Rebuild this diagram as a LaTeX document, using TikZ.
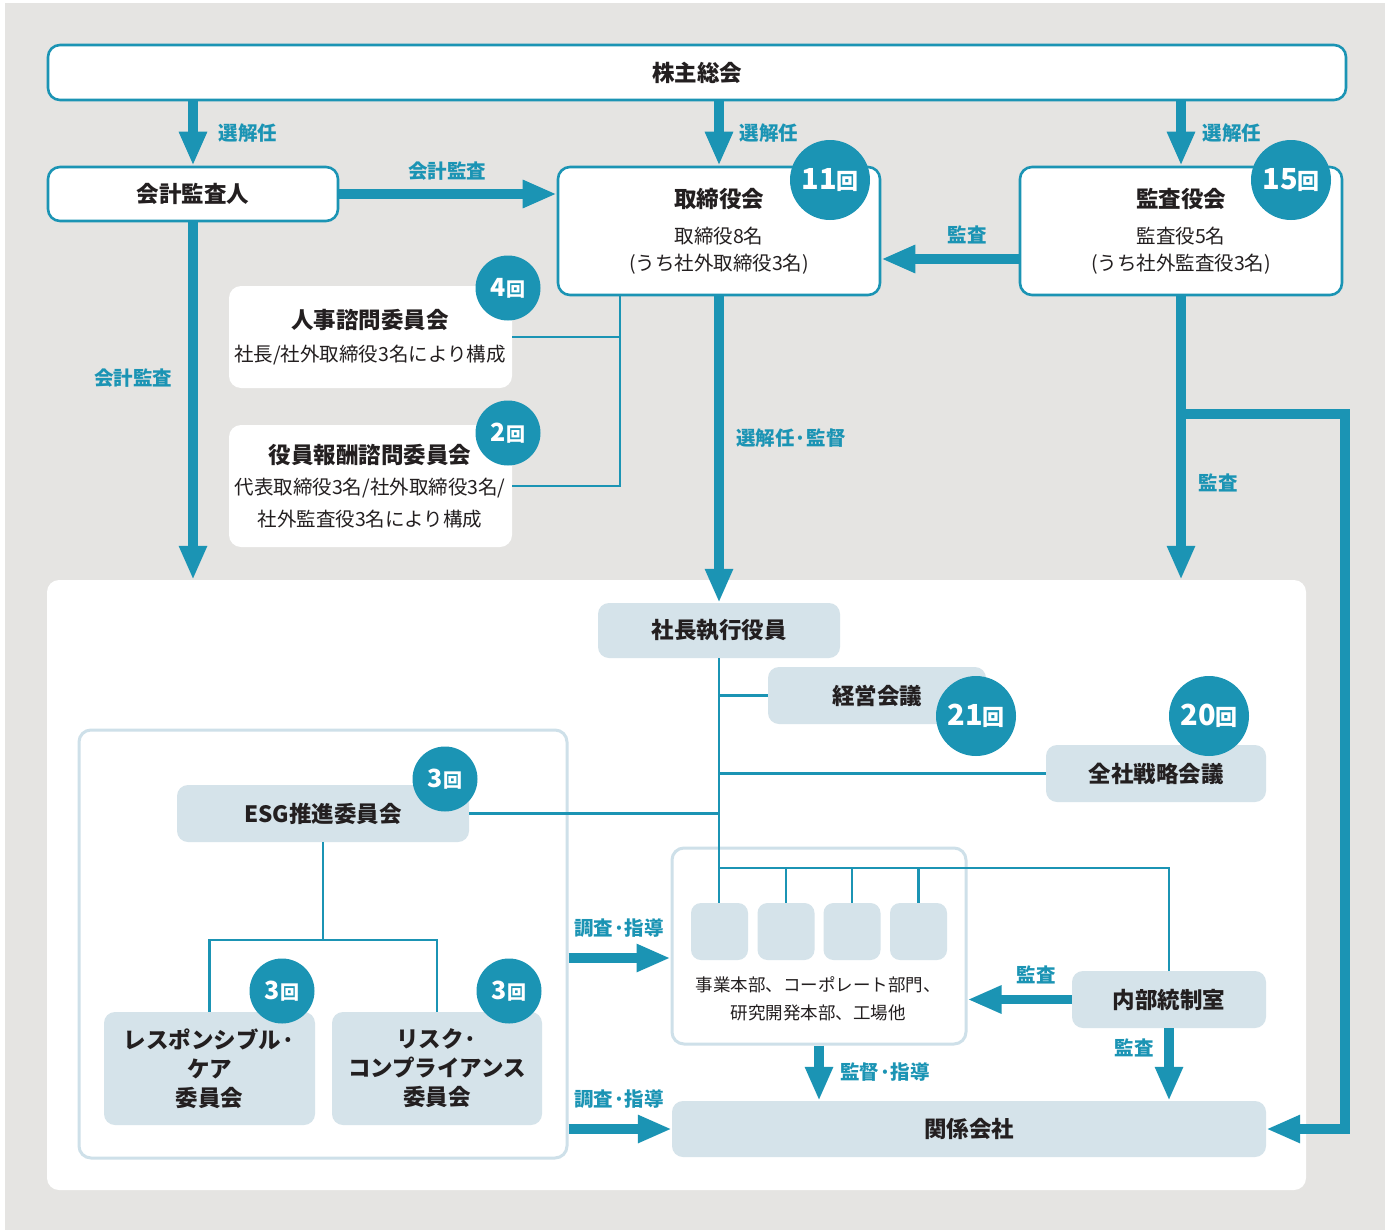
\documentclass[tikz,border=0pt]{standalone}
\usepackage{fontspec}
\setmainfont{Noto Sans CJK JP}
\usetikzlibrary{arrows.meta,calc}
\definecolor{teal1}{RGB}{27,148,180}
\definecolor{bggray}{RGB}{229,228,226}
\definecolor{lblue}{RGB}{213,227,234}
\definecolor{gborder}{RGB}{206,224,233}
\definecolor{ink}{RGB}{35,31,32}
\newcommand\kaisu[3]{{\fontsize{#1}{#1}\selectfont\bfseries #3}{\fontsize{#2}{#2}\selectfont\bfseries 回}}
\tikzset{
 wbox/.style={draw=teal1, line width=2.6pt, fill=white, rounded corners=12pt, inner sep=0pt},
 pbox/.style={fill=lblue, rounded corners=11pt, inner sep=0pt, text=ink},
 gbox/.style={draw=gborder, line width=3pt, fill=white, rounded corners=12pt, inner sep=0pt},
 wpanel/.style={fill=white, rounded corners=12pt, inner sep=0pt},
 ttl/.style={font=\fontsize{22.5}{29}\selectfont\bfseries, text=ink},
 sub/.style={font=\fontsize{19.5}{22}\selectfont, text=ink, inner sep=0pt},
 dsub/.style={font=\fontsize{17.5}{20}\selectfont, text=ink, inner sep=0pt},
 lbl/.style={font=\fontsize{19.5}{22}\selectfont\bfseries, text=teal1, inner sep=0pt},
 badge/.style={circle, fill=teal1, text=white, inner sep=0pt},
 bigbadge/.style={badge, minimum size=80pt},
 smallbadge/.style={badge, minimum size=65pt},
 bigarrow/.style={draw=teal1, line width=9.5pt, -{Triangle[length=34pt,width=26pt]}},
 link/.style={draw=teal1, line width=2.6pt},
}
\begin{document}
\begin{tikzpicture}[x=1pt,y=-1pt]
\useasboundingbox (0,0) rectangle (1389,1231);
\fill[bggray] (5,3) rectangle (1385,1230);
% top level
\node[wbox, ttl, minimum width=1298pt, minimum height=55pt] (soukai) at (697,72.5) {株主総会};
\node[wbox, ttl, minimum width=290pt, minimum height=54pt] (kaikei) at (193,194) {会計監査人};
\node[wbox, minimum width=322pt, minimum height=128pt] (torishimari) at (719,231) {};
\node[ttl, inner sep=0pt] (torittl) at (719,199) {取締役会};
\node[sub] (torisub1) at (719,236) {取締役8名};
\node[sub] (torisub2) at (719,264) {(うち社外取締役3名)};
\node[wbox, minimum width=322pt, minimum height=128pt] (kansayaku) at (1181,231) {};
\node[ttl, inner sep=0pt] (kanttl) at (1181,199) {監査役会};
\node[sub] (kansub1) at (1181,236) {監査役5名};
\node[sub] (kansub2) at (1181,264) {(うち社外監査役3名)};
\node[wpanel, minimum width=283pt, minimum height=102pt] (jinji) at (370.5,337) {};
\node[ttl, inner sep=0pt] (jinjittl) at (370,320) {人事諮問委員会};
\node[sub] (jinjisub) at (370,355) {社長/社外取締役3名により構成};
\node[wpanel, minimum width=283pt, minimum height=122pt] (houshu) at (370.5,486) {};
\node[ttl, inner sep=0pt] (houshuttl) at (370,455) {役員報酬諮問委員会};
\node[sub] (houshusub1) at (370,488) {代表取締役3名/社外取締役3名/};
\node[sub] (houshusub2) at (370,519) {社外監査役3名により構成};
% execution panel
\node[wpanel, minimum width=1259pt, minimum height=610pt] (panel) at (676.5,885) {};
\node[gbox, minimum width=488pt, minimum height=428pt] (esgg) at (323,944) {};
\node[gbox, minimum width=294pt, minimum height=196pt] (dept) at (819,946) {};
\node[pbox, ttl, minimum width=242pt, minimum height=55pt] (shacho) at (719,630.5) {社長執行役員};
\node[pbox, ttl, minimum width=218pt, minimum height=57pt] (keiei) at (877,695.5) {経営会議};
\node[pbox, ttl, minimum width=220pt, minimum height=57pt] (zensha) at (1156,773.5) {全社戦略会議};
\node[pbox, ttl, minimum width=292pt, minimum height=57pt] (esg) at (323,813.5) {ESG推進委員会};
\node[pbox, ttl, align=center, minimum width=211pt, minimum height=113pt] (resp) at (209.5,1068.5) {レスポンシブル·\\ケア\\委員会};
\node[pbox, ttl, align=center, minimum width=210pt, minimum height=113pt] (risk) at (437,1068.5) {リスク·\\コンプライアンス\\委員会};
\node[pbox, minimum width=57pt, minimum height=57pt, rounded corners=10pt] (s1) at (719.5,931.5) {};
\node[pbox, minimum width=57pt, minimum height=57pt, rounded corners=10pt] (s2) at (786,931.5) {};
\node[pbox, minimum width=57pt, minimum height=57pt, rounded corners=10pt] (s3) at (852,931.5) {};
\node[pbox, minimum width=57pt, minimum height=57pt, rounded corners=10pt] (s4) at (918.5,931.5) {};
\node[dsub] (dtext1) at (818,985) {事業本部、コーポレート部門、};
\node[dsub] (dtext2) at (818,1013) {研究開発本部、工場他};
\node[pbox, ttl, minimum width=194pt, minimum height=57pt] (naibu) at (1169,999.5) {内部統制室};
\node[pbox, ttl, minimum width=594pt, minimum height=56pt] (kankei) at (969,1129) {関係会社};
% thin links
\draw[link] (torishimari.south -| 620,0) |- (houshu.east);
\draw[link] (jinji.east) -- (jinji.east -| 620,0);
\draw[link] (shacho.south) -- (shacho.south |- s1.north);
\draw[link] (shacho.south |- keiei.west) -- (keiei.west);
\draw[link] (shacho.south |- zensha.west) -- (zensha.west);
\draw[link] (shacho.south |- esg.east) -- (esg.east);
\draw[link] (shacho.south |- 0,868) -| (naibu.north);
\draw[link] (s2.north |- 0,868) -- (s2.north);
\draw[link] (s3.north |- 0,868) -- (s3.north);
\draw[link] (s4.north |- 0,868) -- (s4.north);
\draw[link] (esg.south) -- (esg.south |- 0,940);
\draw[link] (resp.north) |- (risk.north |- 0,940) -- (risk.north);
% thick arrows
\draw[bigarrow] (soukai.south -| kaikei.north) -- (kaikei.north);
\draw[bigarrow] (soukai.south -| torishimari.north) -- (torishimari.north);
\draw[bigarrow] (soukai.south -| kansayaku.north) -- (kansayaku.north);
\draw[bigarrow] (kaikei.east) -- (torishimari.west |- kaikei.east);
\draw[bigarrow] (kansayaku.west |- 0,259) -- (torishimari.east |- 0,259);
\draw[bigarrow] (kaikei.south) -- (kaikei.south |- panel.north);
\draw[bigarrow] (torishimari.south) -- (shacho.north);
\draw[bigarrow] (kansayaku.south) -- (kansayaku.south |- panel.north);
\coordinate (br) at (1181,414);
\coordinate (rc) at (1345,1129);
\draw[bigarrow] (br) -| (rc) -- (kankei.east);
\draw[bigarrow] (esgg.east |- 0,958) -- (dept.west |- 0,958);
\draw[bigarrow] (esgg.east |- 0,1129) -- (kankei.west);
\draw[bigarrow] (naibu.west) -- (naibu.west -| dept.east);
\draw[bigarrow] (naibu.south) -- (naibu.south |- kankei.north);
\draw[bigarrow] (dept.south) -- (dept.south |- kankei.north);
% labels
\node[lbl] (lab1) at (248,133) {選解任};
\node[lbl] (lab2) at (769,133) {選解任};
\node[lbl] (lab3) at (1232,133) {選解任};
\node[lbl] (lab4) at (447,171) {会計監査};
\node[lbl] (lab5) at (967,235) {監査};
\node[lbl] (lab6) at (133,378) {会計監査};
\node[lbl] (lab7) at (791,438) {選解任·監督};
\node[lbl] (lab8) at (1218,483) {監査};
\node[lbl] (lab9) at (619,928) {調査·指導};
\node[lbl] (lab10) at (619,1099) {調査·指導};
\node[lbl] (lab11) at (1036,975) {監査};
\node[lbl] (lab12) at (1134,1048) {監査};
\node[lbl] (lab13) at (885,1072) {監督·指導};
% badges
\node[bigbadge] (b11) at (830,180) {\kaisu{29}{22}{11}};
\node[bigbadge] (b15) at (1291,180) {\kaisu{29}{22}{15}};
\node[smallbadge] (b4) at (508,288) {\kaisu{25}{19}{4}};
\node[smallbadge] (b2) at (508,433) {\kaisu{25}{19}{2}};
\node[bigbadge] (b21) at (976,716) {\kaisu{29}{22}{21}};
\node[bigbadge] (b20) at (1209,716) {\kaisu{29}{22}{20}};
\node[smallbadge] (b3a) at (445,779) {\kaisu{25}{19}{3}};
\node[smallbadge] (b3b) at (282,991) {\kaisu{25}{19}{3}};
\node[smallbadge] (b3c) at (509,991) {\kaisu{25}{19}{3}};
\end{tikzpicture}
\end{document}
